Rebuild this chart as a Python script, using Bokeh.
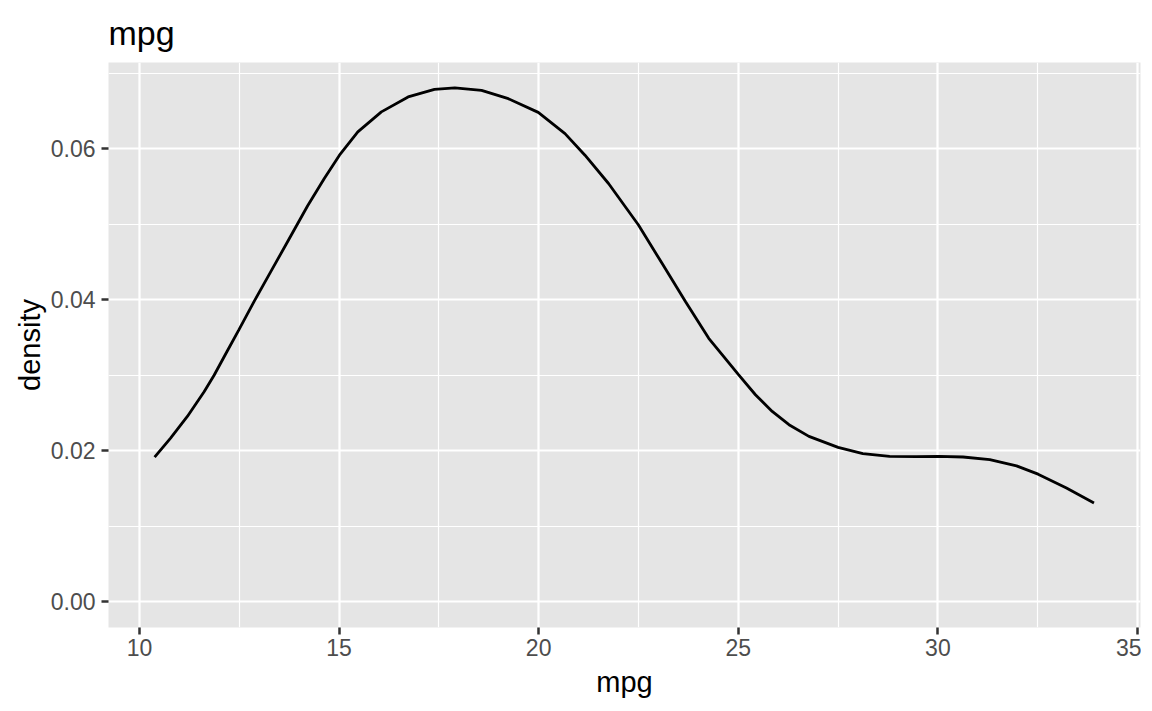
from bokeh.plotting import figure
from bokeh.models import Range1d, FixedTicker
from bokeh.embed import file_html
from bokeh.resources import INLINE

# density curve of mpg
mpg = [10.38, 10.78, 11.20, 11.62, 11.87, 12.20, 12.49, 12.87, 13.29, 13.71,
       14.21, 14.63, 15.01, 15.47, 16.06, 16.73, 17.39, 17.90, 18.57, 19.24,
       19.99, 20.66, 21.16, 21.75, 22.50, 23.09, 23.68, 24.26, 24.60, 25.00,
       25.43, 25.85, 26.27, 26.77, 27.50, 28.12, 28.79, 29.46, 30.02, 30.63,
       31.30, 31.97, 32.51, 33.22, 33.91]
density = [0.01915, 0.02168, 0.02454, 0.02780, 0.03000, 0.03320, 0.03600, 0.03974,
           0.04371, 0.04767, 0.05240, 0.05604, 0.05913, 0.06221, 0.06486, 0.06684,
           0.06785, 0.06803, 0.06772, 0.06661, 0.06480, 0.06199, 0.05913, 0.05538,
           0.04988, 0.04481, 0.03974, 0.03489, 0.03270, 0.03010, 0.02741, 0.02520,
           0.02345, 0.02190, 0.02045, 0.01962, 0.01926, 0.01922, 0.01926, 0.01917,
           0.01882, 0.01800, 0.01690, 0.01507, 0.01309]

x_ticks = [10, 15, 20, 25, 30, 35]
x_minor = [12.5, 17.5, 22.5, 27.5, 32.5]
y_ticks = [0.0, 0.02, 0.04, 0.06]
y_minor = [0.01, 0.03, 0.05, 0.07]
y_labels = {0.0: "0.00", 0.02: "0.02", 0.04: "0.04", 0.06: "0.06"}

FONT = "Liberation Sans"

p = figure(title="mpg", frame_width=1032, frame_height=565,
           min_border_left=108, min_border_right=1,
           min_border_top=61, min_border_bottom=76,
           x_range=Range1d(9.225, 35.075), y_range=Range1d(-0.0034, 0.0714),
           output_backend="svg", toolbar_location=None, tools="",
           x_axis_label="mpg", y_axis_label="density")

p.background_fill_color = "#E5E5E5"
p.border_fill_color = "white"
p.outline_line_color = None

p.title.text_font = FONT
p.title.text_font_size = "34px"
p.title.text_font_style = "normal"
p.title.text_color = "black"
p.title.align = "left"
p.title.standoff = 22

p.xaxis.ticker = FixedTicker(ticks=x_ticks, minor_ticks=x_minor)
p.yaxis.ticker = FixedTicker(ticks=y_ticks, minor_ticks=y_minor)
p.yaxis.major_label_overrides = y_labels

for ax in (p.xaxis, p.yaxis):
    ax.axis_line_color = None
    ax.minor_tick_line_color = None
    ax.major_tick_line_color = "#333333"
    ax.major_tick_line_width = 2.5
    ax.major_tick_in = 0
    ax.major_tick_out = 7
    ax.major_label_text_font = FONT
    ax.major_label_text_font_size = "23px"
    ax.major_label_text_color = "#4D4D4D"
    ax.axis_label_text_font = FONT
    ax.axis_label_text_font_size = "29px"
    ax.axis_label_text_font_style = "normal"
    ax.axis_label_text_color = "black"
p.xaxis.major_label_standoff = 4
p.yaxis.major_label_standoff = 6
p.xaxis.axis_label_standoff = 7
p.yaxis.axis_label_standoff = 2

for g in (p.xgrid, p.ygrid):
    g.grid_line_color = "white"
    g.grid_line_width = 2.2
    g.minor_grid_line_color = "white"
    g.minor_grid_line_width = 1.2

p.line(mpg, density, line_color="black", line_width=2.8)

open("out.html", "w").write(file_html(p, INLINE))
